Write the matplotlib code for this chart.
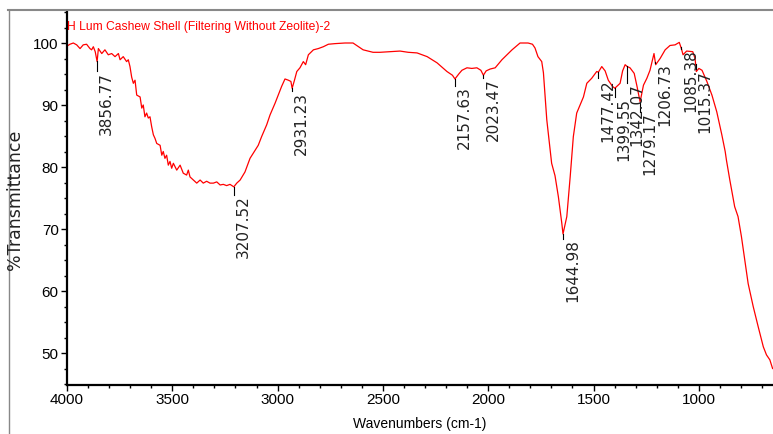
"""
FTIR spectrum: H Lum Cashew Shell (Filtering Without Zeolite)-2
Saves out.png (773x434).
"""
import numpy as np
import matplotlib
matplotlib.use("Agg")
import matplotlib.pyplot as plt
from matplotlib.ticker import MultipleLocator
from matplotlib.lines import Line2D

NARROW = ["Liberation Sans Narrow", "Liberation Sans", "DejaVu Sans"]
plt.rcParams["font.family"] = NARROW

# spectrum (wavenumber cm-1, %T)
wavenumbers = [
    4000, 3986, 3970, 3954, 3938, 3923, 3907, 3891, 3883, 3875, 3866, 3857, 3851,
    3835, 3820, 3804, 3788, 3772, 3756, 3748, 3733, 3717, 3709, 3701, 3693, 3685,
    3677, 3669, 3653, 3645, 3638, 3630, 3622, 3614, 3606, 3598, 3590, 3582, 3574,
    3558, 3550, 3543, 3535, 3527, 3519, 3511, 3503, 3495, 3479, 3463, 3448, 3432,
    3424, 3416, 3400, 3384, 3368, 3353, 3337, 3321, 3305, 3289, 3273, 3258, 3242,
    3226, 3208, 3194, 3178, 3155, 3131, 3107, 3092, 3076, 3052, 3036, 3012, 2997,
    2981, 2965, 2949, 2937, 2931, 2920, 2909, 2894, 2878, 2867, 2854, 2830, 2807,
    2783, 2759, 2727, 2680, 2642, 2620, 2594, 2547, 2514, 2470, 2419, 2380, 2338,
    2290, 2243, 2196, 2170, 2158, 2140, 2125, 2101, 2078, 2054, 2035, 2023, 2010,
    1991, 1967, 1935, 1887, 1849, 1811, 1790, 1778, 1764, 1746, 1738, 1730, 1722,
    1712, 1699, 1683, 1667, 1651, 1645, 1627, 1611, 1596, 1580, 1564, 1548, 1532,
    1509, 1485, 1477, 1461, 1445, 1430, 1410, 1399, 1374, 1362, 1350, 1340, 1327,
    1307, 1293, 1279, 1263, 1247, 1232, 1213, 1205, 1184, 1160, 1137, 1113, 1093,
    1083, 1075, 1058, 1029, 1018, 1012, 1000, 985, 962, 938, 915, 891, 875, 869,
    853, 830, 814, 798, 782, 766, 742, 718, 694, 679, 663, 650,
]
transmittance = [
    99.5, 99.8, 100.0, 99.7, 99.1, 99.7, 99.8, 99.1, 98.9, 99.4, 98.6, 97.0, 99.1,
    98.3, 98.9, 98.1, 98.3, 97.8, 98.3, 97.3, 97.8, 97.0, 97.3, 96.2, 94.5, 93.5,
    94.0, 91.6, 91.3, 89.5, 90.0, 88.1, 88.7, 87.9, 88.1, 86.5, 85.2, 84.6, 83.8,
    83.5, 81.9, 82.5, 81.4, 81.9, 80.3, 80.9, 79.8, 80.6, 79.5, 80.3, 79.0, 78.7,
    79.5, 78.4, 77.9, 77.4, 77.9, 77.4, 77.7, 77.4, 77.4, 77.6, 77.1, 77.2, 77.0,
    77.2, 76.8, 77.4, 77.9, 79.2, 81.4, 82.7, 83.5, 84.9, 86.8, 88.4, 90.3, 91.6,
    93.0, 94.2, 94.0, 93.8, 92.7, 94.0, 95.4, 96.0, 97.0, 96.5, 98.1, 98.9, 99.1,
    99.4, 99.8, 99.9, 100.0, 100.0, 99.5, 98.9, 98.5, 98.5, 98.6, 98.7, 98.5, 98.4,
    97.8, 96.8, 95.4, 94.8, 94.2, 95.0, 95.6, 96.0, 95.9, 96.0, 95.6, 94.8, 95.5,
    95.8, 96.0, 97.3, 98.9, 100.0, 100.0, 99.8, 99.2, 97.8, 97.0, 95.2, 91.3, 87.6,
    84.6, 80.6, 78.6, 75.2, 71.0, 69.2, 72.0, 78.4, 84.9, 88.7, 90.0, 91.3, 93.5,
    94.3, 95.4, 95.3, 96.2, 95.5, 94.0, 93.0, 92.7, 93.5, 95.5, 96.5, 96.2, 96.0,
    95.1, 92.9, 90.5, 93.2, 94.3, 95.6, 98.3, 96.5, 97.5, 98.9, 99.6, 99.7, 100.1,
    99.1, 98.1, 98.7, 98.6, 97.5, 95.4, 95.9, 95.6, 93.8, 91.6, 88.9, 85.2, 82.5, 81.1,
    77.9, 73.6, 72.0, 68.8, 65.0, 61.2, 57.5, 54.2, 51.0, 49.7, 48.9, 47.5,
]

# labelled peaks
peak_labels = ["3856.77", "3207.52", "2931.23", "2157.63", "2023.47", "1644.98",
               "1477.42", "1399.55", "1342.07", "1279.17", "1206.73", "1085.38",
               "1015.37"]
# how far (in %T) each label starts below the curve
label_drop = [1.6, 1.3, 0.5, 1.1, 0.4, 0.8, 1.0, 1.5, 2.7, 1.6, 0.1, 0.3, 0.8]

fig = plt.figure(figsize=(7.73, 4.34), dpi=100)
ax = fig.add_axes([67 / 773, 1 - 385 / 434, 1 - 67 / 773, (385 - 12) / 434])

ax.plot(wavenumbers, transmittance, color="#ff0000", linewidth=0.9)

wn_sorted = np.array(wavenumbers[::-1], dtype=float)
t_sorted = np.array(transmittance[::-1], dtype=float)
for lab, drop in zip(peak_labels, label_drop):
    x = float(lab)
    y = np.interp(x, wn_sorted, t_sorted)
    top = y - drop
    ax.plot([x, x], [y, top], color="black", linewidth=0.8)
    ax.annotate(lab, (x, top), xytext=(1.5, -0.5), textcoords="offset points",
                rotation=90, ha="left", va="top", fontsize=11,
                family="DejaVu Sans", color="#222222")

ax.set_xlim(4000, 648)
ax.set_ylim(44.84, 105)
ax.xaxis.set_major_locator(MultipleLocator(500))
ax.xaxis.set_minor_locator(MultipleLocator(100))
ax.yaxis.set_minor_locator(MultipleLocator(2.5))
ax.set_yticks([50, 60, 70, 80, 90, 100])
ax.tick_params(axis="both", which="major", direction="out", length=4, width=1,
               labelsize=11, pad=2)
ax.tick_params(axis="both", which="minor", direction="out", length=2.5, width=1)

for side in ("top", "right"):
    ax.spines[side].set_visible(False)
for side in ("left", "bottom"):
    ax.spines[side].set_linewidth(1.6)

ax.set_xlabel("Wavenumbers (cm-1)", fontsize=10, labelpad=7)
fig.text(15 / 773, 1 - 200 / 434, "%Transmittance", rotation=90, ha="center",
         va="center", fontsize=12.5, family="DejaVu Sans", color="#222222")

ax.text(0.0, 1 - 9 / 373, "H Lum Cashew Shell (Filtering Without Zeolite)-2",
        transform=ax.transAxes, ha="left", va="top", color="#ff0000",
        fontsize=8.7)

# outer frame of the original window
fig.add_artist(Line2D([8.5 / 773, 8.5 / 773], [0, 1 - 10 / 434],
                      color="#888888", linewidth=1.0, transform=fig.transFigure))
fig.add_artist(Line2D([8 / 773, 1], [1 - 10 / 434, 1 - 10 / 434],
                      color="#888888", linewidth=1.5, transform=fig.transFigure))

fig.savefig("out.png", dpi=100)
